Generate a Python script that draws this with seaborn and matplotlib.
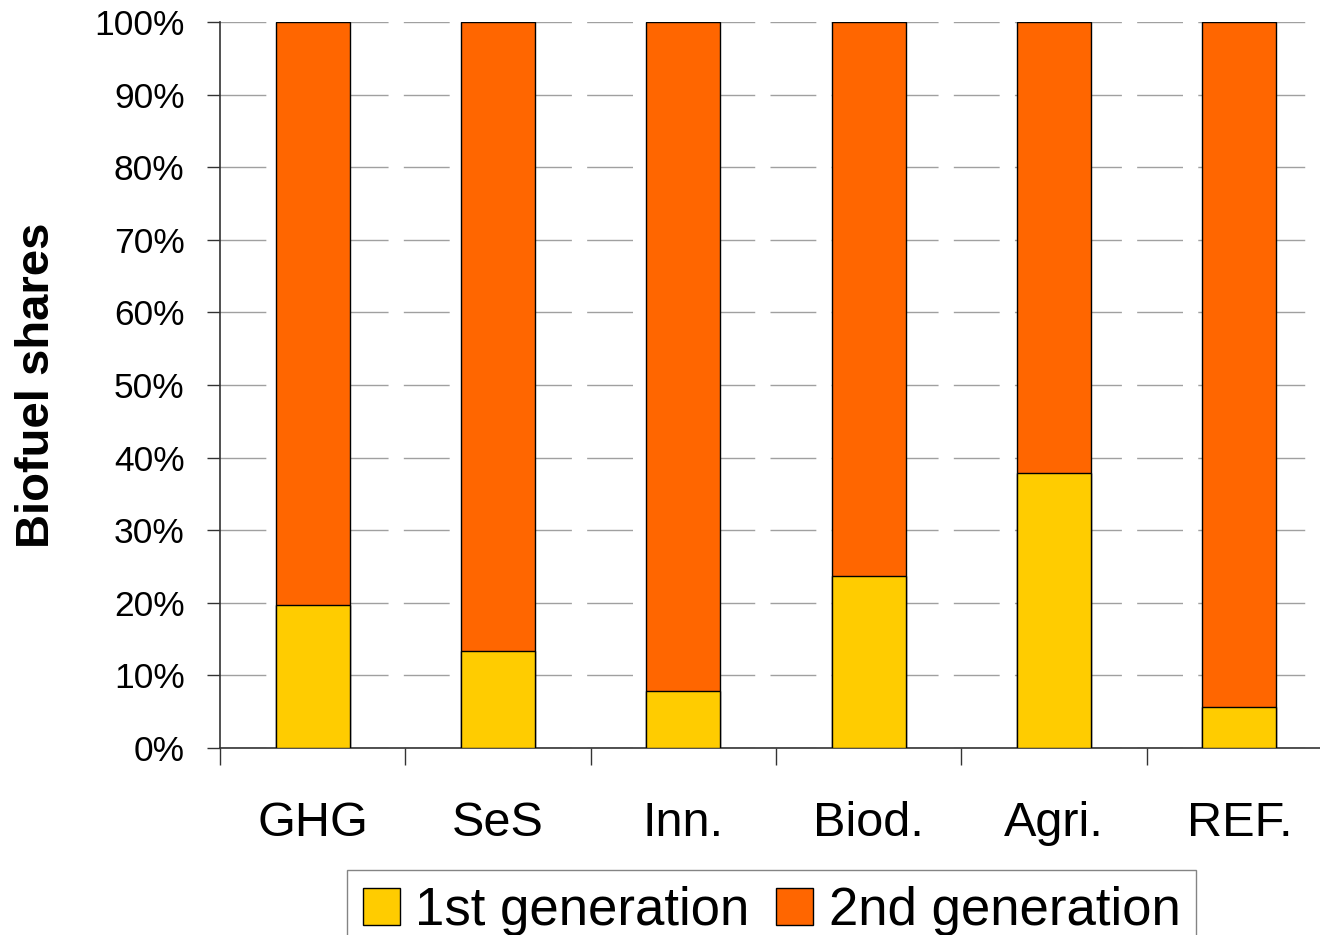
import numpy as np
import pandas as pd
import matplotlib.pyplot as plt
import seaborn as sns
from matplotlib.patches import Patch
from matplotlib.ticker import PercentFormatter, FixedLocator

# scenario shares of 1st generation biofuels (rest is 2nd generation)
scenarios = ['GHG', 'SeS', 'Inn.', 'Biod.', 'Agri.', 'REF.']
first_gen = [19.7, 13.4, 7.9, 23.7, 37.9, 5.6]
second_gen = [100 - v for v in first_gen]

df = pd.DataFrame({'scenario': scenarios,
                   'first': first_gen,
                   'total': np.array(first_gen) + np.array(second_gen)})

sns.set_theme(style='white')
plt.rcParams['font.family'] = ['Liberation Sans', 'DejaVu Sans']
plt.rcParams['text.color'] = 'black'
plt.rcParams['axes.labelcolor'] = 'black'
plt.rcParams['xtick.color'] = 'black'
plt.rcParams['ytick.color'] = 'black'

yellow = '#FFCC00'
orange = '#FF6600'

fig = plt.figure(figsize=(13.2, 9.35), dpi=100)
ax = fig.add_axes([220 / 1320, 1 - 748 / 935, 1112 / 1320, 726 / 935])

sns.barplot(data=df, x='scenario', y='total', color=orange, saturation=1,
            width=0.4, edgecolor='black', linewidth=1, ax=ax, zorder=2)
sns.barplot(data=df, x='scenario', y='first', color=yellow, saturation=1,
            width=0.4, edgecolor='black', linewidth=1, ax=ax, zorder=3)

ax.set_ylim(0, 100)
ax.set_xlim(-0.5, 5.5)
ax.set_yticks(np.arange(0, 101, 10))
ax.yaxis.set_major_formatter(PercentFormatter(decimals=0))
ax.yaxis.grid(True, color='#a0a0a0', linewidth=1, linestyle=(0, (33, 11)), zorder=0)
ax.set_axisbelow(True)

# category separators as minor ticks
ax.xaxis.set_minor_locator(FixedLocator(np.arange(-0.5, 6, 1)))
ax.tick_params(axis='x', which='minor', bottom=True, length=12, width=1,
               color='#333333', direction='out')
ax.tick_params(axis='x', which='major', bottom=True, length=0, pad=38,
               labelsize=35, labelcolor='black')
ax.tick_params(axis='y', length=9.5, width=1, color='#333333', direction='out',
               left=True, pad=16, labelsize=25.5, labelcolor='black')

for s in ['top', 'right']:
    ax.spines[s].set_visible(False)
for s in ['left', 'bottom']:
    ax.spines[s].set_color('#333333')
    ax.spines[s].set_linewidth(1.2)

ax.set_xlabel('')
ax.set_ylabel('Biofuel shares', fontsize=34, fontweight='bold', color='black')
ax.yaxis.set_label_coords(-0.145, 0.5)

handles = [Patch(facecolor=yellow, edgecolor='black', label='1st generation'),
           Patch(facecolor=orange, edgecolor='black', label='2nd generation')]
leg = fig.legend(handles=handles, loc='upper center', bbox_to_anchor=(0.5845, 1 - 870 / 935),
                 ncol=2, fontsize=38, frameon=True, fancybox=False,
                 handlelength=0.7, handleheight=0.7, handletextpad=0.3,
                 columnspacing=0.5, borderpad=0.3, borderaxespad=0)
leg.get_frame().set_edgecolor('#666666')
leg.get_frame().set_linewidth(1)

fig.savefig('out.png', dpi=100)
